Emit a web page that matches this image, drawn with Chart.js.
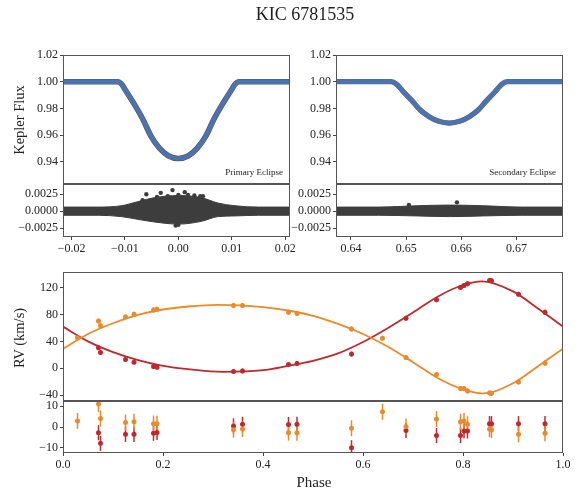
<!DOCTYPE html>
<html>
<head>
<meta charset="utf-8">
<script src="https://cdn.jsdelivr.net/npm/chart.js@4.4.0/dist/chart.umd.min.js"></script>
<style>
  body { margin: 0; background: #fff; }
  #wrap { position: relative; width: 585px; height: 489px; font-family: "Liberation Serif", serif; color: #222; }
  canvas { position: absolute; left: 0; top: 0; }
  .lbl { position: absolute; white-space: nowrap; transform: translate(-50%, -50%); }
  .rot { transform: translate(-50%, -50%) rotate(-90deg); }
</style>
</head>
<body>
<div id="wrap">
  <canvas id="lc1" width="585" height="489"></canvas>
  <canvas id="lc1res" width="585" height="489"></canvas>
  <canvas id="lc2" width="585" height="489"></canvas>
  <canvas id="lc2res" width="585" height="489"></canvas>
  <canvas id="rv" width="585" height="489"></canvas>
  <canvas id="rvres" width="585" height="489"></canvas>
  <div class="lbl" style="left:305px; top:14px; font-size:18px;">KIC 6781535</div>
  <div class="lbl rot" style="left:19px; top:120px; font-size:14.5px;">Kepler Flux</div>
  <div class="lbl rot" style="left:19px; top:338px; font-size:14.5px;">RV (km/s)</div>
  <div class="lbl" style="left:314px; top:482px; font-size:15px;">Phase</div>
</div>
<script>
// primary eclipse model (phase, normalised flux)
const primPhase = [-0.0216, -0.0113, -0.0107, -0.0098, -0.0082, -0.0066, -0.0051, -0.0035, -0.0019, 0,
                   0.0019, 0.0035, 0.0051, 0.0066, 0.0082, 0.0098, 0.0107, 0.0113, 0.0209];
const primFlux  = [1.0, 1.0, 0.9985, 0.993, 0.9828, 0.9715, 0.959, 0.950, 0.9446, 0.9425,
                   0.9446, 0.950, 0.959, 0.9715, 0.9828, 0.993, 0.9985, 1.0, 1.0];

// secondary eclipse model
const secPhase = [0.6373, 0.6473, 0.6483, 0.6495, 0.651, 0.6525, 0.6541, 0.6558, 0.6578,
                  0.6598, 0.6615, 0.6631, 0.6646, 0.6661, 0.6673, 0.6683, 0.6784];
const secFlux  = [1.0, 1.0, 0.998, 0.9925, 0.986, 0.979, 0.974, 0.9705, 0.969,
                  0.9705, 0.974, 0.979, 0.986, 0.9925, 0.998, 1.0, 1.0];

// residual scatter envelopes
const primResPhase = [-0.0216, -0.015, -0.0107, -0.0076, -0.0044, 0, 0.0043, 0.0074, 0.0106, 0.015, 0.0209];
const primResHigh  = [0.0006, 0.0006, 0.0008, 0.0014, 0.0020, 0.0023, 0.0020, 0.0012, 0.0008, 0.0006, 0.0006];
const primResLow   = [-0.0006, -0.0006, -0.0008, -0.0012, -0.0016, -0.0019, -0.0015, -0.0008, -0.0007, -0.0006, -0.0006];
const primOutPhase = [-0.0067, -0.0060, -0.0040, -0.0033, -0.0020, -0.0011, 0.0000, 0.0012, 0.0018, 0.0030, 0.0041, 0.0046, 0.0000, -0.0005];
const primOutRes   = [0.0016, 0.0025, 0.0021, 0.0027, 0.0022, 0.0031, 0.0024, 0.0028, 0.0024, 0.0023, 0.0022, 0.0022, -0.0020, -0.0021];

const secResPhase = [0.6373, 0.645, 0.652, 0.658, 0.664, 0.671, 0.6784];
const secResHigh  = [0.0006, 0.0006, 0.0008, 0.0009, 0.0008, 0.0006, 0.0006];
const secResLow   = [-0.0006, -0.0006, -0.0007, -0.0008, -0.0007, -0.0006, -0.0006];
const secOutPhase = [0.6505, 0.6592];
const secOutRes   = [0.0009, 0.0013];

// radial velocities, km/s
const rvPhaseA = [0.029, 0.071, 0.075, 0.125, 0.142, 0.181, 0.188, 0.341, 0.359, 0.451, 0.468,
                  0.577, 0.639, 0.686, 0.747, 0.795, 0.802, 0.809, 0.853, 0.857, 0.911, 0.964];
const rvA      = [45.4, 70.4, 63.4, 76.4, 80.4, 86.9, 87.9, 93.4, 93.4, 83.4, 81.4,
                  58.4, 44.5, 16.0, -9.4, -30.4, -30.4, -34.0, -37.0, -37.5, -20.5, 7.5];
const rvResA   = [2.9, 11.0, 4.1, 2.1, 2.5, 1.6, 1.6, -1.3, -1.0, -2.7, -2.7,
                  -0.6, 7.3, 0.2, 3.8, 2.5, 2.9, 1.3, -1.0, -1.4, -3.5, -3.0];
const rvErrA   = [3.8, 3.8, 3.8, 3.8, 3.8, 3.8, 3.8, 3.8, 3.8, 3.8, 3.8,
                  3.8, 3.8, 3.8, 3.8, 3.8, 3.8, 3.8, 3.8, 3.8, 3.8, 3.8];

const rvPhaseB = [0.071, 0.075, 0.125, 0.142, 0.181, 0.188, 0.341, 0.359, 0.451, 0.468,
                  0.577, 0.686, 0.747, 0.795, 0.802, 0.809, 0.853, 0.857, 0.911, 0.964];
const rvB      = [30.4, 23.5, 13.0, 9.0, 2.5, 1.5, -5.0, -4.0, 5.5, 7.0,
                  21.0, 74.4, 101.9, 120.3, 123.3, 125.9, 130.8, 130.5, 110.4, 83.4];
const rvResB   = [-2.7, -7.8, -3.5, -3.5, -3.0, -2.6, 0.5, 1.3, 1.2, 1.3,
                  -9.9, -1.7, -4.1, -4.1, -1.9, -1.9, 1.6, 1.6, 1.6, 1.6];
const rvErrB   = [3.6, 3.6, 3.6, 3.6, 3.6, 3.6, 3.6, 3.6, 3.6, 3.6,
                  3.6, 3.6, 3.6, 3.6, 3.6, 3.6, 3.6, 3.6, 3.6, 3.6];

// orbit models
const modelPhaseA = [0, 0.05, 0.10, 0.15, 0.20, 0.25, 0.31, 0.40, 0.45, 0.50, 0.55, 0.60, 0.65, 0.70, 0.75, 0.80, 0.84, 0.90, 0.95, 1.0];
const modelA      = [29, 51, 67, 79.5, 87.5, 92, 94.5, 91, 86, 78, 66, 51, 32, 9, -15, -31.5, -37.5, -22.5, 3, 29];
const modelPhaseB = [0, 0.05, 0.10, 0.15, 0.20, 0.25, 0.32, 0.40, 0.45, 0.50, 0.55, 0.60, 0.65, 0.70, 0.75, 0.80, 0.838, 0.90, 0.95, 1.0];
const modelB      = [62, 40, 24, 12, 3.5, -1.5, -5.5, -3, 3.5, 11, 22, 39, 60, 83, 107, 124, 129.5, 114.5, 89, 62];

// tick values
const primTicksX = [-0.02, -0.01, 0, 0.01, 0.02];
const secTicksX  = [0.64, 0.65, 0.66, 0.67];
const fluxTicks  = [0.94, 0.96, 0.98, 1.00, 1.02];
const lcResTicks = [-0.0025, 0, 0.0025];
const phaseTicks = [0, 0.2, 0.4, 0.6, 0.8, 1.0];
const rvTicks    = [-40, 0, 40, 80, 120];
const rvResTicks = [-10, 0, 10];

const W = 585, H = 489;
const FONT = "'Liberation Serif', serif";
const BLUE = '#4c72b0', DARK = '#3d3d3d', RED = '#c0282e', ORANGE = '#eb8a2a';
const Y_AXIS_W = 70, X_AXIS_H = 24;

const pts = (xs, ys) => xs.map((x, i) => ({ x: x, y: ys[i] }));
const fmt = d => v => (v < 0 ? '\u2212' : '') + Math.abs(v).toFixed(d);

// full box round each panel
const frame = {
  id: 'frame',
  afterDraw(chart) {
    const a = chart.chartArea, c = chart.ctx;
    c.save();
    c.strokeStyle = '#555';
    c.lineWidth = 1;
    c.strokeRect(a.left + 0.5, a.top + 0.5, a.right - a.left - 1, a.bottom - a.top - 1);
    c.restore();
  }
};

// vertical error bars for datasets that carry an `errors` array
const errorBars = {
  id: 'errorBars',
  beforeDatasetsDraw(chart) {
    const { ctx, chartArea: a, scales: { x, y } } = chart;
    ctx.save();
    ctx.beginPath();
    ctx.rect(a.left, a.top, a.right - a.left, a.bottom - a.top);
    ctx.clip();
    chart.data.datasets.forEach(ds => {
      if (!ds.errors) return;
      ctx.strokeStyle = ds.errorColor;
      ctx.lineWidth = 1.5;
      ds.data.forEach((p, i) => {
        const px = x.getPixelForValue(p.x);
        ctx.beginPath();
        ctx.moveTo(px, y.getPixelForValue(p.y - ds.errors[i]));
        ctx.lineTo(px, y.getPixelForValue(p.y + ds.errors[i]));
        ctx.stroke();
      });
    });
    ctx.restore();
  }
};

// small caption in the lower right corner
const note = {
  id: 'note',
  afterDraw(chart, args, opts) {
    if (!opts.text) return;
    const a = chart.chartArea, c = chart.ctx;
    c.save();
    c.font = '9px ' + FONT;
    c.fillStyle = '#222';
    c.textAlign = 'right';
    c.textBaseline = 'middle';
    c.fillText(opts.text, a.right - 7, a.bottom - 11);
    c.restore();
  }
};

function axis(min, max, ticks, format, show, isX) {
  return {
    type: 'linear',
    min: min,
    max: max,
    display: show,
    afterBuildTicks: s => { s.ticks = ticks.map(v => ({ value: v })); },
    afterFit: s => {
      if (!show) { if (isX) s.height = 0; else s.width = 0; return; }
      if (isX) { s.height = X_AXIS_H; s.paddingLeft = 0; s.paddingRight = 0; }
      else { s.width = Y_AXIS_W; s.paddingTop = 0; s.paddingBottom = 0; }
    },
    ticks: { callback: format, font: { family: FONT, size: 12 }, color: '#222', padding: 2, maxRotation: 0, autoSkip: false },
    grid: { drawOnChartArea: false, tickLength: 3, color: '#444', lineWidth: 1 },
    border: { display: false }
  };
}

function makePanel(p) {
  const showX = !!p.xTicks;
  return new Chart(document.getElementById(p.id), {
    type: 'scatter',
    data: { datasets: p.datasets },
    options: {
      responsive: false,
      animation: false,
      devicePixelRatio: 1,
      events: [],
      layout: { padding: { left: p.left - Y_AXIS_W, top: p.top, right: W - p.right, bottom: H - p.bottom - (showX ? X_AXIS_H : 0) } },
      plugins: { legend: { display: false }, tooltip: { enabled: false }, note: { text: p.note || '' } },
      scales: {
        x: axis(p.xMin, p.xMax, p.xTicks || [], p.xFmt, showX, true),
        y: axis(p.yMin, p.yMax, p.yTicks, p.yFmt, true, false)
      }
    },
    plugins: [frame, errorBars, note]
  });
}

function curve(xs, ys, color, width, order) {
  return { type: 'line', data: pts(xs, ys), borderColor: color, borderWidth: width, pointRadius: 0,
           cubicInterpolationMode: 'monotone', fill: false, order: order };
}

function band(xs, hi, lo) {
  return [
    { type: 'line', data: pts(xs, hi), borderColor: DARK, backgroundColor: DARK, borderWidth: 1, pointRadius: 0,
      cubicInterpolationMode: 'monotone', fill: '+1', order: 2 },
    { type: 'line', data: pts(xs, lo), borderColor: DARK, borderWidth: 1, pointRadius: 0,
      cubicInterpolationMode: 'monotone', fill: false, order: 2 }
  ];
}

function dots(xs, ys, color, r, order, errs) {
  const ds = { type: 'scatter', data: pts(xs, ys), pointRadius: r, pointBackgroundColor: color,
               pointBorderWidth: 0, order: order };
  if (errs) { ds.errors = errs; ds.errorColor = color; }
  return ds;
}

// primary eclipse: data cloud drawn as a dark band under the model line
makePanel({
  id: 'lc1', left: 63, right: 290, top: 55, bottom: 184,
  xMin: -0.0216, xMax: 0.0209, yMin: 0.9234, yMax: 1.02,
  yTicks: fluxTicks, yFmt: fmt(2), note: 'Primary Eclipse',
  datasets: [curve(primPhase, primFlux, BLUE, 4.6, 0), curve(primPhase, primFlux, '#555', 5.6, 1)]
});
makePanel({
  id: 'lc1res', left: 63, right: 290, top: 184, bottom: 237,
  xMin: -0.0216, xMax: 0.0209, yMin: -0.0038, yMax: 0.0040,
  xTicks: primTicksX, xFmt: fmt(2), yTicks: lcResTicks, yFmt: fmt(4),
  datasets: [...band(primResPhase, primResHigh, primResLow), dots(primOutPhase, primOutRes, DARK, 2.2, 1)]
});

// secondary eclipse
makePanel({
  id: 'lc2', left: 336, right: 563, top: 55, bottom: 184,
  xMin: 0.6373, xMax: 0.6784, yMin: 0.9234, yMax: 1.02,
  yTicks: fluxTicks, yFmt: fmt(2), note: 'Secondary Eclipse',
  datasets: [curve(secPhase, secFlux, BLUE, 4.6, 0), curve(secPhase, secFlux, '#666', 5.3, 1)]
});
makePanel({
  id: 'lc2res', left: 336, right: 563, top: 184, bottom: 237,
  xMin: 0.6373, xMax: 0.6784, yMin: -0.0038, yMax: 0.0040,
  xTicks: secTicksX, xFmt: fmt(2), yTicks: lcResTicks, yFmt: fmt(4),
  datasets: [...band(secResPhase, secResHigh, secResLow), dots(secOutPhase, secOutRes, DARK, 2.2, 1)]
});

// radial velocity curves
makePanel({
  id: 'rv', left: 63, right: 563, top: 272, bottom: 401,
  xMin: 0, xMax: 1, yMin: -48.9, yMax: 143.4,
  yTicks: rvTicks, yFmt: fmt(0),
  datasets: [
    curve(modelPhaseB, modelB, RED, 1.8, 3),
    curve(modelPhaseA, modelA, ORANGE, 1.8, 2),
    dots(rvPhaseB, rvB, RED, 2.5, 1, rvErrB),
    dots(rvPhaseA, rvA, ORANGE, 2.5, 0, rvErrA)
  ]
});
makePanel({
  id: 'rvres', left: 63, right: 563, top: 401, bottom: 453,
  xMin: 0, xMax: 1, yMin: -12.4, yMax: 12.4,
  xTicks: phaseTicks, xFmt: fmt(1), yTicks: rvResTicks, yFmt: fmt(0),
  datasets: [
    dots(rvPhaseB, rvResB, RED, 2.5, 1, rvErrB),
    dots(rvPhaseA, rvResA, ORANGE, 2.5, 0, rvErrA)
  ]
});
</script>
</body>
</html>
